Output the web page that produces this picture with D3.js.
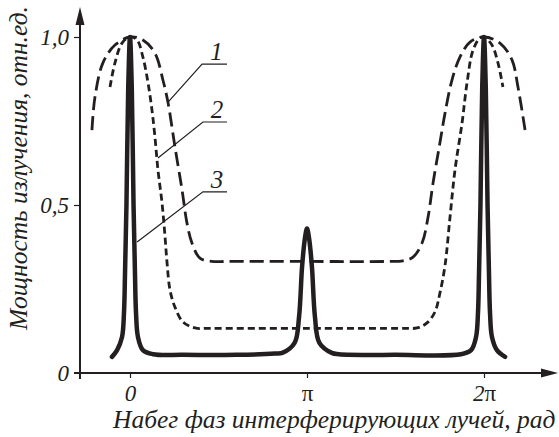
<!DOCTYPE html>
<html>
<head>
<meta charset="utf-8">
<script src="https://cdn.jsdelivr.net/npm/d3@7"></script>
<style>
  body { margin: 0; background: #fff; }
  svg { display: block; }
</style>
</head>
<body>
<svg id="chart" width="559" height="437"></svg>
<script>
// phase in units of pi, power in relative units
var phase1 = [-0.215, -0.198, -0.153, -0.085, 0, 0.073, 0.141, 0.186, 0.215, 0.254, 0.294, 0.322, 0.350, 0.395, 0.463, 0.55,
  1.0, 1.45, 1.542, 1.599, 1.650, 1.684, 1.712, 1.751, 1.780, 1.819, 1.864, 1.921, 2.0, 2.090, 2.158, 2.192, 2.232];
var power1 = [0.723, 0.821, 0.923, 0.976, 1.0, 0.991, 0.952, 0.872, 0.804, 0.673, 0.545, 0.446, 0.387, 0.342, 0.332, 0.332,
  0.332, 0.332, 0.334, 0.345, 0.387, 0.464, 0.565, 0.685, 0.774, 0.872, 0.940, 0.985, 1.0, 0.982, 0.932, 0.851, 0.723];

var phase2 = [-0.113, -0.085, -0.045, 0, 0.040, 0.073, 0.102, 0.124, 0.141, 0.158, 0.181, 0.198, 0.209, 0.226, 0.254, 0.299, 0.367, 0.45,
  1.0, 1.55, 1.621, 1.678, 1.723, 1.751, 1.780, 1.808, 1.836, 1.876, 1.904, 1.938, 1.977, 2.0, 2.045, 2.079, 2.107];
var power2 = [0.851, 0.923, 0.982, 1.0, 0.991, 0.940, 0.863, 0.783, 0.702, 0.604, 0.506, 0.405, 0.330, 0.247, 0.196, 0.152, 0.134, 0.133,
  0.133, 0.133, 0.134, 0.149, 0.182, 0.238, 0.321, 0.464, 0.604, 0.744, 0.863, 0.961, 0.997, 1.0, 0.976, 0.923, 0.851];

var phase3 = [-0.102, -0.073, -0.045, -0.034, -0.028, -0.020, -0.010, 0, 0.010, 0.020, 0.028, 0.034, 0.045, 0.073, 0.13,
  0.3, 0.6, 0.82, 0.86, 0.93, 0.955, 0.972, 0.988, 1.0, 1.012, 1.028, 1.045, 1.07, 1.14, 1.18,
  1.5, 1.87, 1.927, 1.955, 1.966, 1.972, 1.98, 1.99, 2.0, 2.01, 2.02, 2.028, 2.034, 2.045, 2.073, 2.119];
var power3 = [0.048, 0.068, 0.107, 0.179, 0.30, 0.5, 0.85, 1.0, 0.85, 0.5, 0.30, 0.179, 0.107, 0.068, 0.056,
  0.054, 0.054, 0.058, 0.06, 0.09, 0.167, 0.315, 0.40, 0.43, 0.40, 0.315, 0.167, 0.09, 0.06, 0.056,
  0.054, 0.056, 0.068, 0.107, 0.179, 0.30, 0.5, 0.85, 1.0, 0.85, 0.5, 0.30, 0.179, 0.107, 0.068, 0.048];

var xTicks = [0, 1, 2];
var xTickLabels = ["0", "π", "2π"];
var yTicks = [0, 0.5, 1];
var yTickLabels = ["0", "0,5", "1,0"];

var curveNames = ["1", "2", "3"];
// leader lines: [point on curve, elbow, end] as [phase, power]
var leaders = [
  [[0.215, 0.806], [0.407, 0.919], [0.548, 0.919]],
  [[0.158, 0.640], [0.412, 0.747], [0.548, 0.747]],
  [[0.040, 0.390], [0.412, 0.539], [0.548, 0.539]]
];

var ink = "#231f20";
var font = "'Liberation Serif', 'Times New Roman', serif";

var svg = d3.select("#chart");
var x = d3.scaleLinear().domain([0, 2]).range([130, 484]);
var y = d3.scaleLinear().domain([0, 1]).range([373, 37]);

var x0 = x(-0.2825);
var y0 = y(0);

// axes lines with arrows
svg.append("line")
  .attr("x1", x0).attr("x2", 548)
  .attr("y1", y0).attr("y2", y0)
  .style("stroke", ink).style("stroke-width", 2);
svg.append("line")
  .attr("x1", x0).attr("x2", x0)
  .attr("y1", y0 + 6).attr("y2", 18)
  .style("stroke", ink).style("stroke-width", 2);
svg.append("line")
  .attr("x1", x0 - 6).attr("x2", x0)
  .attr("y1", y0).attr("y2", y0)
  .style("stroke", ink).style("stroke-width", 2);
svg.append("path")
  .attr("d", "M" + x0 + ",7 L" + (x0 + 4.5) + ",25 L" + (x0 - 4.5) + ",25 Z")
  .style("fill", ink);
svg.append("path")
  .attr("d", "M558," + y0 + " L541," + (y0 - 4.5) + " L541," + (y0 + 4.5) + " Z")
  .style("fill", ink);

var yAxis = svg.append("g")
  .attr("transform", "translate(" + x0 + ",0)")
  .call(d3.axisLeft(y).tickValues(yTicks).tickSize(6).tickPadding(5)
    .tickFormat(function (d, i) { return yTickLabels[i]; }));

var xAxis = svg.append("g")
  .attr("transform", "translate(0," + y0 + ")")
  .call(d3.axisBottom(x).tickValues(xTicks).tickSize(5).tickPadding(7)
    .tickFormat(function (d, i) { return xTickLabels[i]; }));

[xAxis, yAxis].forEach(function (g) {
  g.select(".domain").remove();
  g.selectAll(".tick line").style("stroke", ink).style("stroke-width", 1.2);
  g.selectAll(".tick text")
    .style("font-family", font)
    .style("font-size", "23px")
    .style("font-style", "italic")
    .style("fill", ink);
});
yAxis.selectAll(".tick").filter(function (d) { return d === 0; })
  .select("line").remove();

// pi labels are upright, digits italic
xAxis.selectAll(".tick text").each(function (d, i) {
  var label = xTickLabels[i];
  var t = d3.select(this).text(null);
  label.split("").forEach(function (ch) {
    t.append("tspan")
      .text(ch)
      .style("font-style", ch === "π" ? "normal" : "italic");
  });
});

// curves
var line = d3.line()
  .x(function (d) { return x(d[0]); })
  .y(function (d) { return y(d[1]); })
  .curve(d3.curveCatmullRom.alpha(0.5));

var series = [
  {x: phase1, v: power1, width: 2.8, dash: "14,6"},
  {x: phase2, v: power2, width: 2.8, dash: "7,4"},
  {x: phase3, v: power3, width: 4.5, dash: null}
];

series.forEach(function (s) {
  var pts = s.x.map(function (p, i) { return [p, s.v[i]]; });
  svg.append("path")
    .datum(pts)
    .attr("d", line)
    .style("fill", "none")
    .style("stroke", ink)
    .style("stroke-width", s.width)
    .style("stroke-linejoin", "round")
    .style("stroke-linecap", s.dash ? "butt" : "round")
    .style("stroke-dasharray", s.dash);
});

// leader lines and curve numbers
leaders.forEach(function (pts, i) {
  svg.append("polyline")
    .attr("points", pts.map(function (p) { return x(p[0]) + "," + y(p[1]); }).join(" "))
    .style("fill", "none")
    .style("stroke", ink)
    .style("stroke-width", 1.2);
  svg.append("text")
    .attr("x", (x(pts[1][0]) + x(pts[2][0])) / 2 + 2)
    .attr("y", y(pts[1][1]) - 4)
    .attr("text-anchor", "middle")
    .style("font-family", font)
    .style("font-size", "25px")
    .style("font-style", "italic")
    .style("fill", ink)
    .text(curveNames[i]);
});

// axis titles
svg.append("text")
  .attr("x", 113)
  .attr("y", 428)
  .style("font-family", font)
  .style("font-size", "25.5px")
  .style("font-style", "italic")
  .style("fill", ink)
  .text("Набег фаз интерферирующих лучей, рад");

svg.append("text")
  .attr("transform", "translate(27,168) rotate(-90)")
  .attr("text-anchor", "middle")
  .style("font-family", font)
  .style("font-size", "25.5px")
  .style("font-style", "italic")
  .style("fill", ink)
  .text("Мощность излучения, отн.ед.");
</script>
</body>
</html>
